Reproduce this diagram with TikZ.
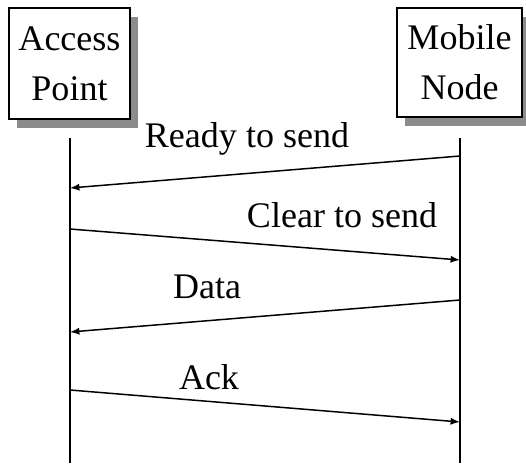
\documentclass[tikz,border=0pt]{standalone}
\usepackage{fontspec}
\setmainfont{Liberation Serif}
\usetikzlibrary{shadows}

\begin{document}
\begin{tikzpicture}[x=0.02cm, y=-0.02cm, line width=0.85pt,
    every node/.style={font=\fontsize{20.5}{28.4}\selectfont},
    station/.style={draw, fill=white, align=center, inner sep=0pt,
      drop shadow={shadow xshift=0.16cm, shadow yshift=-0.18cm,
        fill=black!45, opacity=1}},
    msg/.style={anchor=base, inner sep=0pt}]
        \useasboundingbox (0, 0) rectangle (526, 463);
        \node[station, minimum width=2.42cm, minimum height=2.22cm]
          (ap) at (69.5, 63.5) {Access\\Point};
        \node[station, minimum width=2.5cm, minimum height=2.18cm]
          (mn) at (459.5, 62.5) {Mobile\\Node};
        \coordinate (aptop) at (70, 138);
        \coordinate (apbot) at (70, 463);
        \coordinate (mntop) at (460, 138);
        \coordinate (mnbot) at (460, 463);
        \coordinate (rtsa) at (460, 156);
        \coordinate (rtsb) at (70, 188);
        \coordinate (ctsa) at (70, 229);
        \coordinate (ctsb) at (460, 260);
        \coordinate (dataa) at (460, 300);
        \coordinate (datab) at (70, 332);
        \coordinate (acka) at (70, 390);
        \coordinate (ackb) at (460, 422);
        \node[msg] (rts) at (247, 147) {Ready to send};
        \node[msg] (cts) at (342, 227) {Clear to send};
        \node[msg] (data) at (207, 298) {Data};
        \node[msg] (ack) at (209, 389) {Ack};
        \draw (aptop) -- (apbot);
        \draw (mntop) -- (mnbot);
        \draw[-latex] (rtsa) -- (rtsb);
        \draw[-latex] (ctsa) -- (ctsb);
        \draw[-latex] (dataa) -- (datab);
        \draw[-latex] (acka) -- (ackb);
      \end{tikzpicture}
\end{document}
